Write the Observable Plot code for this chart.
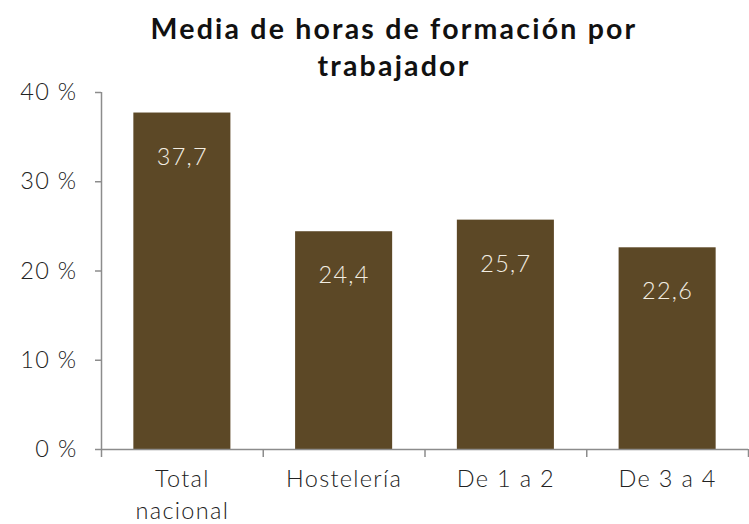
<!DOCTYPE html>
<html>
<head>
<meta charset="utf-8">
<script src="https://cdn.jsdelivr.net/npm/d3@7"></script>
<script src="https://cdn.jsdelivr.net/npm/@observablehq/plot@0.6"></script>
<style>
  html, body { margin: 0; padding: 0; background: #fff; }
  #wrap { position: relative; width: 749px; height: 524px; overflow: hidden; }
  #title { position: absolute; left: 0; top: 10px; width: 788px; text-align: center;
    font-family: Lato, sans-serif; font-weight: 700; font-size: 28.5px; letter-spacing: 2.2px; line-height: 37px; color: #111; }
  #chart { position: absolute; left: 0; top: 0; }
  #chart svg text { letter-spacing: 1.3px; font-weight: 300; }
</style>
</head>
<body>
<div id="wrap">
  <div id="chart"></div>
  <div id="title">Media de horas de formación por<br>trabajador</div>
</div>
<script>
const categories = ["Total\nnacional", "Hostelería", "De 1 a 2", "De 3 a 4"];
const values = [37.7, 24.4, 25.7, 22.6];
const yTicks = [0, 10, 20, 30, 40];

const data = categories.map((c, i) => ({cat: c, i, value: values[i]}));
const boundaries = d3.range(categories.length + 1);
const fmt = v => v.toFixed(1).replace(".", ",");
const axisColor = "#8c8c8c";
const barColor = "#5c4826";

const chart = Plot.plot({
  width: 749,
  height: 524,
  marginTop: 92,
  marginBottom: 75,
  marginLeft: 101,
  marginRight: 1,
  style: {fontFamily: "Lato, sans-serif", fontSize: "23.5px", color: "#222", background: "#fff"},
  x: {type: "linear", domain: [0, categories.length]},
  y: {type: "linear", domain: [0, 40]},
  marks: [
    Plot.rectY(data, {x1: d => d.i + 0.2, x2: d => d.i + 0.8, y1: 0, y2: "value", fill: barColor}),
    Plot.axisY(yTicks, {tickSize: 6, tickPadding: 18, tickFormat: d => d + " %", stroke: axisColor, strokeWidth: 1.5, fill: "#222", label: null}),
    Plot.axisX(boundaries, {tickSize: 8, tickFormat: () => "", stroke: axisColor, strokeWidth: 1.5, label: null}),
    Plot.ruleX([0], {y1: 0, y2: 40, stroke: axisColor, strokeWidth: 1.5}),
    Plot.ruleY([0], {x1: 0, x2: categories.length, stroke: axisColor, strokeWidth: 1.5}),
    Plot.text(data, {x: d => d.i + 0.5, y: 0, text: "cat", lineAnchor: "top", dy: 15, lineHeight: 1.36, fill: "#222"}),
    Plot.text(data, {x: d => d.i + 0.5, y: "value", text: d => fmt(d.value), dy: 44, fill: "#f2ede2"})
  ]
});
document.getElementById("chart").appendChild(chart);
</script>
</body>
</html>
